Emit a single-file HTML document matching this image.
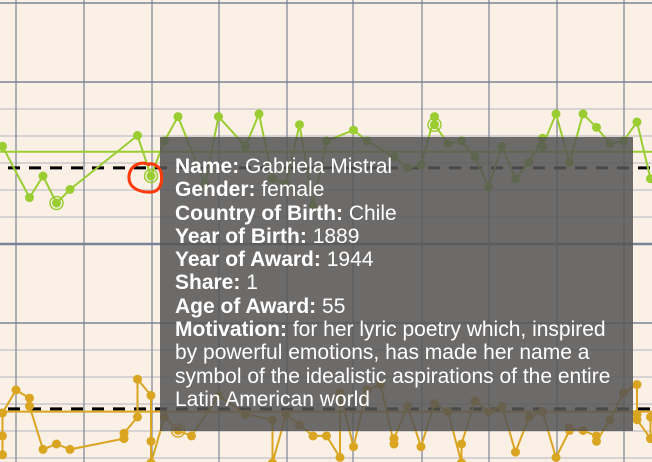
<!DOCTYPE html>
<html><head><meta charset="utf-8"><style>
body{margin:0;background:#faf0e6;}
svg{display:block;}
.tip{position:absolute;left:160px;top:137px;width:473px;height:294px;background:rgba(85,85,85,0.86);color:#fff;font-family:"Liberation Sans",sans-serif;font-size:21px;line-height:23.3px;padding:18px 0 0 15px;box-sizing:border-box;white-space:nowrap;overflow:hidden;}
.tip b{font-weight:bold;}
</style></head><body>
<div style="position:relative;width:652px;height:462px;overflow:hidden">
<svg id="c" width="652" height="462"></svg>
<div class="tip">
<div><b>Name:</b> Gabriela Mistral</div>
<div><b>Gender:</b> female</div>
<div><b>Country of Birth:</b> Chile</div>
<div><b>Year of Birth:</b> 1889</div>
<div><b>Year of Award:</b> 1944</div>
<div><b>Share:</b> 1</div>
<div><b>Age of Award:</b> 55</div>
<div><b>Motivation:</b> for her lyric poetry which, inspired<br>by powerful emotions, has made her name a<br>symbol of the idealistic aspirations of the entire<br>Latin American world</div>
</div>
<svg width="652" height="462" style="position:absolute;left:0;top:0;pointer-events:none">
<path d="M150,165 C140,160 130,166 129,176 C128,188 140,193 152,192 C160,191 163,183 161,172 C159,166 154,163 148,164" fill="none" stroke="#ff3a0a" stroke-width="3"/>
</svg>
</div>
<script>
const greenYears=[1933,1935,1936,1937,1938,1943,1944,1945,1946,1948,1949,1951,1952,1953,1954,1955,1956,1957,1959,1960,1962,1963,1964,1965,1965,1966,1967,1968,1969,1970,1971,1972,1973,1973,1974,1975,1976,1977,1978,1979,1980,1981];
const greenAges=[66,47,55,45,50,70,55,68,77,52,77,66,78,54,52,74,44,68,72,68,62,58,59,77,74,67,68,62,51,66,54,60,69,66,78,60,78,73,67,68,75,54];
const greenHighlight=[1937,1944,1965];
const orangeYears=[1933,1933,1933,1934,1935,1935,1936,1937,1938,1942,1942,1943,1943,1944,1944,1944,1945,1946,1947,1949,1951,1953,1953,1954,1955,1956,1957,1958,1958,1959,1960,1961,1962,1962,1963,1964,1965,1966,1967,1967,1968,1969,1970,1971,1972,1973,1974,1975,1975,1976,1977,1977,1978,1979,1980,1980,1980,1981,1981];
const orangeAges=[41,48,56.5,65,62,59,43,45,43,47,49,55,69,63,46,38,55,50,48,63,56,54,38,56,52,48,48,40,64,44,65,67,45,47,59,44,60,57,38,45,61,57,59,42,55,57,40,50,51,50,48,46,54,64,67,56,54,47,55];
const orangeHighlight=[1946];
const greenMean=64, greenMedian=58, orangeMean=57, orangeMedian=58;

const NS="http://www.w3.org/2000/svg";
const svg=document.getElementById('c');
const x=y=>151+(y-1944)*13.5;
const yG=a=>176-(a-55)*2.7;
const yO=a=>417-(a-55)*2.7;
function el(t,at){const e=document.createElementNS(NS,t);for(const k in at)e.setAttribute(k,at[k]);svg.appendChild(e);return e;}
[109,136,163,190,217,350,377,404,431,458].forEach(v=>{const l=el('line',{x1:0,x2:652,y1:v,y2:v,stroke:'#c9c9cc','stroke-width':1.5});

});
[[3,1.5],[82,1.5],[244,2.5],[323,1.5]].forEach(v=>{const l=el('line',{x1:0,x2:652,y1:v[0],y2:v[0],stroke:'#7a8494','stroke-width':v[1]});

});
[16,84,152,219,287,353,422,489,557,624].forEach(v=>{const l=el('line',{x1:v,x2:v,y1:0,y2:462,stroke:'#7a8494','stroke-width':1.2});

});
function series(years,ages,ys,col,hl,name,mean,med){
 const m=el('line',{x1:0,x2:652,y1:ys(mean),y2:ys(mean),stroke:col,'stroke-width':2});
 
 
 const d=el('line',{x1:8,x2:652,y1:ys(med),y2:ys(med),stroke:'#000','stroke-width':3,'stroke-dasharray':'12,9'});
 
 
 const p=el('polyline',{points:years.map((v,i)=>x(v)+','+ys(ages[i])).join(' '),fill:'none',stroke:col,'stroke-width':2});
 
 
 years.forEach((v,i)=>{
  const c=el('circle',{cx:x(v),cy:ys(ages[i]),r:4.5,fill:col});
  
  
 });
 hl.forEach(v=>{const i=years.indexOf(v);const idx=(v===1965&&name==='green')?years.lastIndexOf(v):i;
  const c=el('circle',{cx:x(v),cy:ys(ages[idx]),r:6.5,fill:'none',stroke:col,'stroke-width':1.5});
  
  });
}
series(greenYears,greenAges,yG,'#9acd32',greenHighlight,'green',greenMean,greenMedian);
series(orangeYears,orangeAges,yO,'#daa520',orangeHighlight,'orange',orangeMean,orangeMedian);
</script>
</body></html>
